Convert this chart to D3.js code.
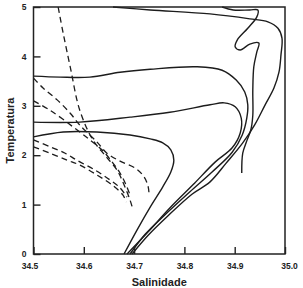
<!DOCTYPE html>
<html>
<head>
<meta charset="utf-8">
<script src="https://cdn.jsdelivr.net/npm/d3@7"></script>
<style>
body{margin:0;background:#fff;}
text{font-family:"Liberation Sans",Arial,sans-serif;fill:#222;}
</style>
</head>
<body>
<div id="chart"></div>
<script>
var W = 303, H = 288
var margin = {top:7, left:33.5, right:18, bottom:34}

// tick labels
var xTicks = [34.5, 34.6, 34.7, 34.8, 34.9, 35.0]
var yTicks = [0, 1, 2, 3, 4, 5]

// solid profiles, [salinity, temperature]
var solidTop = [[34.658,5.00],[34.732,4.94],[34.851,4.86],[34.930,4.76],[34.966,4.70],[34.986,4.57],[34.994,4.37],
  [34.992,4.03],[34.988,3.68],[34.978,3.36],[34.960,3.01],[34.940,2.62],[34.916,2.25],[34.883,1.84],[34.851,1.46],
  [34.815,1.21],[34.767,0.77],[34.728,0.38],[34.696,0]]
var solidSquiggle = [[34.875,5.00],[34.897,4.94],[34.930,4.94],[34.946,4.94],[34.944,4.80],[34.926,4.57],[34.905,4.33],
  [34.901,4.19],[34.911,4.13],[34.930,4.25],[34.948,4.27],[34.944,4.09],[34.938,3.79],[34.936,3.32],[34.936,2.81],
  [34.932,2.51],[34.924,2.29],[34.916,2.04],[34.914,1.64]]
var solid36 = [[34.500,3.60],[34.553,3.58],[34.612,3.58],[34.672,3.68],[34.732,3.74],[34.825,3.79],[34.875,3.72],
  [34.903,3.52],[34.920,3.28],[34.926,3.02],[34.924,2.75],[34.915,2.41],[34.895,2.06],[34.855,1.66],[34.811,1.26],
  [34.761,0.79],[34.722,0.40],[34.692,0]]
var solid27 = [[34.500,2.67],[34.592,2.67],[34.692,2.77],[34.771,2.87],[34.851,3.02],[34.879,3.06],[34.901,2.98],
  [34.913,2.75],[34.911,2.45],[34.895,2.15],[34.861,1.86],[34.817,1.40],[34.771,0.93],[34.728,0.45],[34.686,0]]
var solid24 = [[34.500,2.37],[34.559,2.47],[34.626,2.47],[34.692,2.41],[34.732,2.33],[34.757,2.25],[34.773,2.11],
  [34.779,1.90],[34.773,1.66],[34.757,1.36],[34.732,0.95],[34.706,0.49],[34.680,0]]

// dashed profiles
var dashSteep = [[34.549,5.00],[34.559,4.47],[34.573,3.79],[34.592,2.91],[34.618,2.31],[34.642,2.00],[34.666,1.70],
  [34.680,1.40],[34.692,1.09],[34.698,0.89]]
var dash36 = [[34.500,3.56],[34.519,3.36],[34.547,3.12],[34.573,2.85],[34.592,2.61],[34.626,2.27],[34.646,2.04],
  [34.672,1.88],[34.702,1.74],[34.720,1.56],[34.728,1.36],[34.730,1.17]]
var dash31 = [[34.500,3.10],[34.533,2.91],[34.579,2.57],[34.612,2.31],[34.636,2.11],[34.658,1.84],[34.672,1.64],
  [34.684,1.40],[34.692,1.19]]
var dash23 = [[34.500,2.31],[34.533,2.17],[34.563,2.04],[34.586,1.90],[34.622,1.70],[34.652,1.50],[34.672,1.34],[34.686,1.15]]
var dash21 = [[34.500,2.17],[34.533,2.04],[34.567,1.90],[34.592,1.80],[34.626,1.60],[34.656,1.40],[34.678,1.19],[34.684,1.05]]

var solids = [solidTop, solidSquiggle, solid36, solid27, solid24]
var dashes = [dashSteep, dash36, dash31, dash23, dash21]

var svg = d3.select("#chart").append("svg").attr("width", W).attr("height", H)

var x = d3.scaleLinear().domain([34.5, 35.0]).range([margin.left, W - margin.right])
var y = d3.scaleLinear().domain([0, 5]).range([H - margin.bottom, margin.top])

var line = d3.line()
  .x(function(d){ return x(d[0]) })
  .y(function(d){ return y(d[1]) })
  .curve(d3.curveCatmullRom.alpha(0.5))

// curves
svg.selectAll(".solid").data(solids).enter().append("path")
  .attr("class", "solid")
  .attr("d", line)
  .attr("fill", "none").attr("stroke", "#1c1c1c").attr("stroke-width", 1.4)

svg.selectAll(".dash").data(dashes).enter().append("path")
  .attr("class", "dash")
  .attr("d", line)
  .attr("fill", "none").attr("stroke", "#1c1c1c").attr("stroke-width", 1.3)
  .attr("stroke-dasharray", "6,4")

// frame
svg.append("rect")
  .attr("x", x(34.5)).attr("y", y(5))
  .attr("width", x(35.0) - x(34.5)).attr("height", y(0) - y(5))
  .attr("fill", "none").attr("stroke", "#222").attr("stroke-width", 1.5)

// axes with inward ticks
var xAxis = svg.append("g")
  .attr("transform", "translate(0," + y(0) + ")")
  .call(d3.axisBottom(x).tickValues(xTicks).tickFormat(d3.format(".1f")).tickSizeInner(-7).tickSizeOuter(0).tickPadding(9))
xAxis.select(".domain").remove()
xAxis.selectAll("line").attr("stroke", "#222").attr("stroke-width", 1.4)
xAxis.selectAll("text").attr("font-size", "8.5px").attr("font-weight", "bold").attr("fill", "#333")
  .attr("dx", function(d){ return d == 34.5 ? -4 : d == 35.0 ? 4 : 0 })

var yAxis = svg.append("g")
  .attr("transform", "translate(" + x(34.5) + ",0)")
  .call(d3.axisLeft(y).tickValues(yTicks).tickFormat(d3.format("d")).tickSizeInner(-7).tickSizeOuter(0).tickPadding(7))
yAxis.select(".domain").remove()
yAxis.selectAll("line").attr("stroke", "#222").attr("stroke-width", 1.4)
yAxis.selectAll("text").attr("font-size", "8.5px").attr("font-weight", "bold").attr("fill", "#333")

// titles
svg.append("text")
  .attr("x", (x(34.5) + x(35.0)) / 2).attr("y", 286)
  .attr("text-anchor", "middle").attr("font-size", "11px").attr("font-weight", "bold")
  .text("Salinidade")

svg.append("text")
  .attr("transform", "translate(14," + (y(0) + y(5)) / 2 + ") rotate(-90)")
  .attr("text-anchor", "middle").attr("font-size", "11px").attr("font-weight", "bold")
  .text("Temperatura")
</script>
</body>
</html>
